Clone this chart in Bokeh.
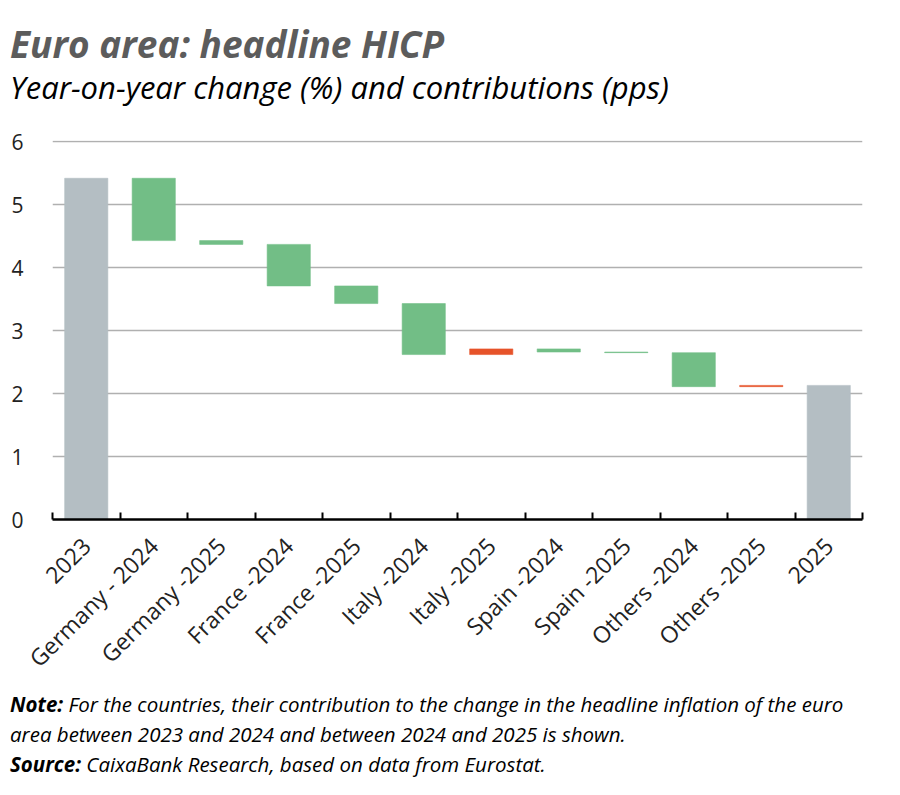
from bokeh.plotting import figure
from bokeh.models import Range1d, FixedTicker, Div, ColumnDataSource
from bokeh.layouts import column
from bokeh.embed import file_html
from bokeh.resources import INLINE

# Datos
categories = ["2023", "Germany - 2024", "Germany -2025", "France -2024", "France -2025",
              "Italy -2024", "Italy -2025", "Spain -2024", "Spain -2025",
              "Others -2024", "Others -2025", "2025"]
start_value = 5.42
contributions = [-0.99, -0.06, -0.66, -0.28, -0.81, 0.09, -0.05, -0.01, -0.54, 0.02]
end_value = 2.13

GREY = "#b4bec3"
GREEN = "#72be86"
RED = "#e6532a"
FONT = "Open Sans"

# construir las barras de la cascada
xs, bottoms, tops, colors = [0], [0], [start_value], [GREY]
level = start_value
for i, c in enumerate(contributions):
    new_level = level + c
    xs.append(i + 1)
    bottoms.append(min(level, new_level))
    tops.append(max(level, new_level))
    colors.append(RED if c > 0 else GREEN)
    level = new_level
xs.append(len(categories) - 1)
bottoms.append(0)
tops.append(end_value)
colors.append(GREY)

src = ColumnDataSource(dict(x=xs, bottom=bottoms, top=tops, color=colors))

# título y subtítulo
header = Div(text="<div style='font-size:37px;line-height:44px;font-weight:bold;color:#5c5c5c'>"
                  "Euro area: headline HICP</div>"
                  "<div style='font-size:31px;line-height:42px;color:black'>"
                  "Year-on-year change (%) and contributions (pps)</div>",
             width=880, height=86, margin=(22, 0, 0, 10),
             styles={"font-family": FONT, "font-style": "italic", "white-space": "nowrap"})

p = figure(width=890, height=581, output_backend="svg", toolbar_location=None,
           x_range=Range1d(-0.5, len(categories) - 0.5), y_range=Range1d(0, 6.02),
           min_border_left=52, min_border_right=28, min_border_top=32, min_border_bottom=170)

p.vbar(x="x", bottom="bottom", top="top", width=0.64, fill_color="color",
       line_color="color", line_width=0.8, line_alpha=0.7, source=src)

# ejes
p.xaxis.ticker = FixedTicker(ticks=list(range(len(categories))),
                             minor_ticks=[i - 0.5 for i in range(len(categories) + 1)])
p.xaxis.major_label_overrides = {i: c for i, c in enumerate(categories)}
p.xaxis.major_label_orientation = 0.785398
p.xaxis.major_tick_line_color = None
p.xaxis.minor_tick_in = 7
p.xaxis.minor_tick_out = 0
p.xaxis.minor_tick_line_color = "black"
p.xaxis.minor_tick_line_width = 2
p.xaxis.axis_line_color = "black"
p.xaxis.axis_line_width = 2.5
p.xaxis.major_label_text_font = FONT
p.xaxis.major_label_text_font_size = "23px"
p.xaxis.major_label_text_color = "#222222"
p.xaxis.major_label_standoff = 16

p.yaxis.ticker = FixedTicker(ticks=[0, 1, 2, 3, 4, 5, 6])
p.yaxis.axis_line_color = None
p.yaxis.major_tick_line_color = None
p.yaxis.minor_tick_line_color = None
p.yaxis.major_label_standoff = 23
p.yaxis.major_label_text_font = FONT
p.yaxis.major_label_text_font_size = "21px"
p.yaxis.major_label_text_color = "#222222"

p.xgrid.grid_line_color = None
p.ygrid.grid_line_color = "#b0b0b0"
p.ygrid.grid_line_width = 1.5
p.outline_line_color = None

# notas al pie
notes = Div(text="<b>Note:</b> For the countries, their contribution to the change in the headline inflation of the euro<br>"
                 "area between 2023 and 2024 and between 2024 and 2025 is shown.<br>"
                 "<b>Source:</b> CaixaBank Research, based on data from Eurostat.",
            width=880, margin=(0, 0, 0, 10),
            styles={"font-family": FONT, "font-style": "italic", "font-size": "20.5px",
                    "line-height": "30px", "color": "black", "white-space": "nowrap"})

layout = column(header, p, notes, spacing=0)

open("out.html", "w").write(file_html(layout, INLINE))
